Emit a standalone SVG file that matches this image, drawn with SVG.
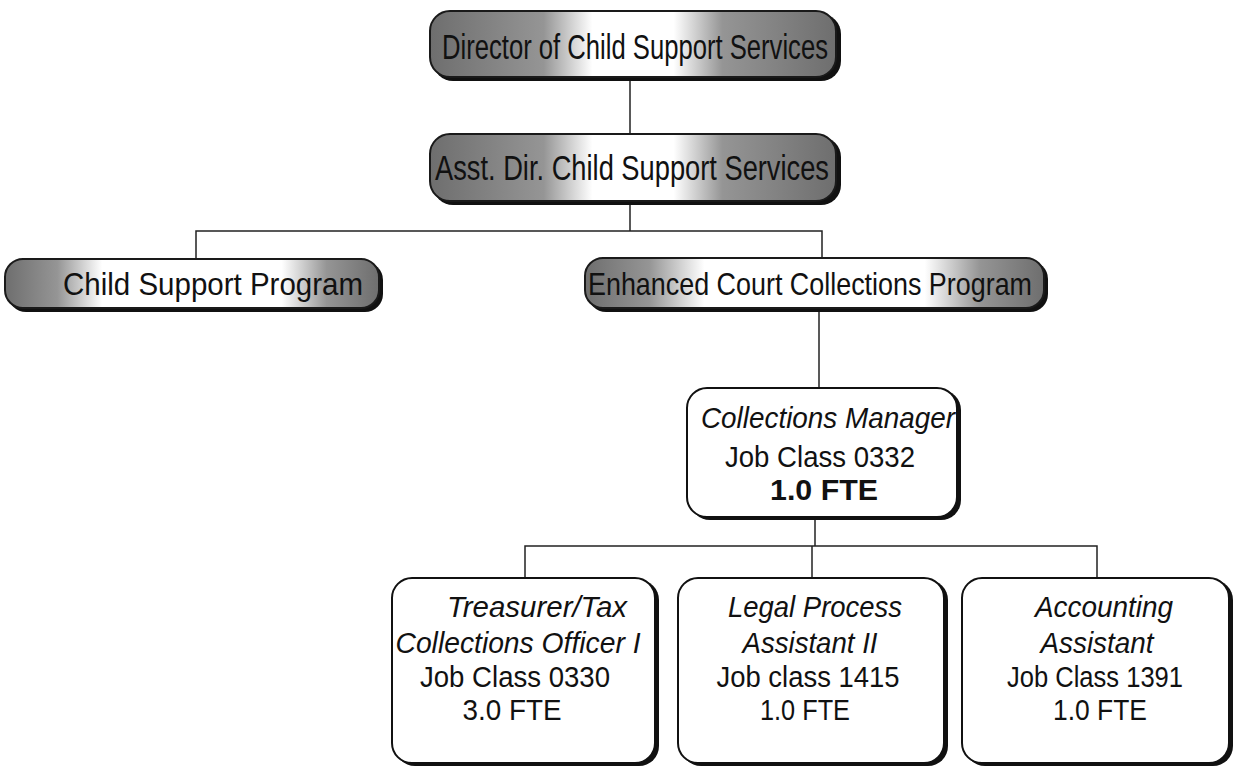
<svg xmlns="http://www.w3.org/2000/svg" width="1237" height="771" viewBox="0 0 1237 771">
<defs>
<linearGradient id="gTop" x1="0" y1="0" x2="1" y2="0">
<stop offset="0" stop-color="#6e6e6e"/>
<stop offset="0.28" stop-color="#959595"/>
<stop offset="0.40" stop-color="#ffffff"/>
<stop offset="0.60" stop-color="#ffffff"/>
<stop offset="0.72" stop-color="#959595"/>
<stop offset="1" stop-color="#6e6e6e"/>
</linearGradient>
<linearGradient id="gMid" x1="0" y1="0" x2="1" y2="0">
<stop offset="0" stop-color="#6e6e6e"/>
<stop offset="0.14" stop-color="#959595"/>
<stop offset="0.26" stop-color="#ffffff"/>
<stop offset="0.74" stop-color="#ffffff"/>
<stop offset="0.86" stop-color="#959595"/>
<stop offset="1" stop-color="#6e6e6e"/>
</linearGradient>
</defs>
<style>
.bg{fill:#ffffff}
.shadow{fill:#111}
.pill{stroke:#1a1a1a;stroke-width:2}
.box{fill:#fff;stroke:#111;stroke-width:2}
.conn{stroke:#222;stroke-width:1.5;fill:none}
text{font-family:"Liberation Sans",Arial,sans-serif;fill:#111;text-anchor:middle}
.t1{font-size:35px}
.t2{font-size:32px}
.t3{font-size:30px}
.it{font-style:italic}
.b{font-weight:bold}
</style>
<rect class="bg" x="0" y="0" width="1237" height="771"/>
<g id="connectors">
<line class="conn" x1="630" y1="78" x2="630" y2="134"/>
<line class="conn" x1="630" y1="202" x2="630" y2="231"/>
<polyline class="conn" points="196,258 196,231 822,231 822,258"/>
<line class="conn" x1="819" y1="310" x2="819" y2="388"/>
<line class="conn" x1="815" y1="517" x2="815" y2="546"/>
<polyline class="conn" points="525,578 525,546 1097,546 1097,578"/>
<line class="conn" x1="812" y1="546" x2="812" y2="578"/>
</g>
<g id="director">
<rect class="shadow" x="433" y="14" width="408" height="67" rx="20"/>
<rect class="pill" x="430" y="11" width="406" height="66" fill="url(#gTop)" rx="20"/>
<text class="t1" x="635" y="59" textLength="386" lengthAdjust="spacingAndGlyphs">Director of Child Support Services</text>
</g>
<g id="asst-director">
<rect class="shadow" x="433" y="137" width="408" height="68" rx="20"/>
<rect class="pill" x="430" y="134" width="406" height="67" fill="url(#gTop)" rx="20"/>
<text class="t1" x="632" y="180" textLength="394" lengthAdjust="spacingAndGlyphs">Asst. Dir. Child Support Services</text>
</g>
<g id="child-support-program">
<rect class="shadow" x="8" y="262" width="375" height="50" rx="18"/>
<rect class="pill" x="5" y="259" width="374" height="49" fill="url(#gMid)" rx="18"/>
<text class="t2" x="213" y="295" textLength="300" lengthAdjust="spacingAndGlyphs">Child Support Program</text>
</g>
<g id="enhanced-court-collections-program">
<rect class="shadow" x="588" y="261" width="460" height="51" rx="18"/>
<rect class="pill" x="585" y="258" width="459" height="50" fill="url(#gMid)" rx="18"/>
<text class="t2" x="810" y="295" textLength="444" lengthAdjust="spacingAndGlyphs">Enhanced Court Collections Program</text>
</g>
<g id="collections-manager">
<rect class="shadow" x="690" y="390" width="271" height="130" rx="20"/>
<rect class="box" x="687" y="388" width="270" height="129" rx="20"/>
<text class="t3 it" x="828" y="428" textLength="254" lengthAdjust="spacingAndGlyphs">Collections Manager</text>
<text class="t3" x="820" y="467" textLength="190" lengthAdjust="spacingAndGlyphs">Job Class 0332</text>
<text class="t3 b" x="824" y="500" textLength="108" lengthAdjust="spacingAndGlyphs">1.0 FTE</text>
</g>
<g id="treasurer-tax-collections-officer">
<rect class="shadow" x="395" y="580" width="264" height="186" rx="20"/>
<rect class="box" x="392" y="578" width="263" height="185" rx="20"/>
<text class="t3 it" x="537" y="617" textLength="180" lengthAdjust="spacingAndGlyphs">Treasurer/Tax</text>
<text class="t3 it" x="518" y="653" textLength="245" lengthAdjust="spacingAndGlyphs">Collections Officer I</text>
<text class="t3" x="515" y="687" textLength="190" lengthAdjust="spacingAndGlyphs">Job Class 0330</text>
<text class="t3" x="512" y="720" textLength="99" lengthAdjust="spacingAndGlyphs">3.0 FTE</text>
</g>
<g id="legal-process-assistant">
<rect class="shadow" x="681" y="580" width="267" height="186" rx="20"/>
<rect class="box" x="678" y="578" width="266" height="185" rx="20"/>
<text class="t3 it" x="815" y="617" textLength="174" lengthAdjust="spacingAndGlyphs">Legal Process</text>
<text class="t3 it" x="810" y="653" textLength="135" lengthAdjust="spacingAndGlyphs">Assistant II</text>
<text class="t3" x="808" y="687" textLength="183" lengthAdjust="spacingAndGlyphs">Job class 1415</text>
<text class="t3" x="805" y="720" textLength="90" lengthAdjust="spacingAndGlyphs">1.0 FTE</text>
</g>
<g id="accounting-assistant">
<rect class="shadow" x="965" y="580" width="268" height="186" rx="20"/>
<rect class="box" x="962" y="578" width="267" height="185" rx="20"/>
<text class="t3 it" x="1104" y="617" textLength="138" lengthAdjust="spacingAndGlyphs">Accounting</text>
<text class="t3 it" x="1097" y="653" textLength="113" lengthAdjust="spacingAndGlyphs">Assistant</text>
<text class="t3" x="1095" y="687" textLength="176" lengthAdjust="spacingAndGlyphs">Job Class 1391</text>
<text class="t3" x="1100" y="720" textLength="94" lengthAdjust="spacingAndGlyphs">1.0 FTE</text>
</g>
</svg>
